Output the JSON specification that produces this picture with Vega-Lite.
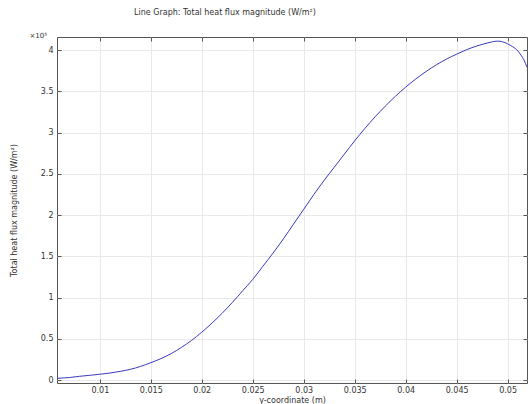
{
  "$schema": "https://vega.github.io/schema/vega-lite/v6.json",
  "autosize": "none",
  "width": 470,
  "height": 346,
  "padding": {"left": 57, "top": 37, "right": 3, "bottom": 21},
  "background": "white",
  "config": {
    "font": "DejaVu Sans",
    "view": {"stroke": "#555", "strokeWidth": 1},
    "axis": {"labelFont": "DejaVu Sans", "titleFont": "DejaVu Sans", "labelFontSize": 8, "titleFontSize": 8, "labelColor": "#333", "titleColor": "#333", "titleFontWeight": "normal", "gridColor": "#e9e9e9", "gridWidth": 1, "tickColor": "#555", "domain": false}
  },
  "title": {"text": "Line Graph: Total heat flux magnitude (W/m²)", "fontSize": 8, "font": "DejaVu Sans", "fontWeight": "normal", "color": "#333", "anchor": "middle", "dx": -67, "offset": 15},
  "data": {"values": [
    {"y": 0.0058, "q": 0.02},
    {"y": 0.007, "q": 0.03},
    {"y": 0.008, "q": 0.045},
    {"y": 0.009, "q": 0.057},
    {"y": 0.010, "q": 0.07},
    {"y": 0.011, "q": 0.085},
    {"y": 0.012, "q": 0.105},
    {"y": 0.013, "q": 0.13},
    {"y": 0.014, "q": 0.165},
    {"y": 0.015, "q": 0.21},
    {"y": 0.016, "q": 0.26},
    {"y": 0.017, "q": 0.32},
    {"y": 0.018, "q": 0.395},
    {"y": 0.019, "q": 0.48},
    {"y": 0.020, "q": 0.58},
    {"y": 0.021, "q": 0.69},
    {"y": 0.022, "q": 0.81},
    {"y": 0.023, "q": 0.94},
    {"y": 0.024, "q": 1.08},
    {"y": 0.025, "q": 1.22},
    {"y": 0.026, "q": 1.38},
    {"y": 0.027, "q": 1.54},
    {"y": 0.028, "q": 1.71},
    {"y": 0.029, "q": 1.89},
    {"y": 0.030, "q": 2.07},
    {"y": 0.031, "q": 2.25},
    {"y": 0.032, "q": 2.42},
    {"y": 0.033, "q": 2.58},
    {"y": 0.034, "q": 2.74},
    {"y": 0.035, "q": 2.9},
    {"y": 0.036, "q": 3.05},
    {"y": 0.037, "q": 3.19},
    {"y": 0.038, "q": 3.32},
    {"y": 0.039, "q": 3.44},
    {"y": 0.040, "q": 3.55},
    {"y": 0.041, "q": 3.65},
    {"y": 0.042, "q": 3.74},
    {"y": 0.043, "q": 3.82},
    {"y": 0.044, "q": 3.89},
    {"y": 0.045, "q": 3.95},
    {"y": 0.046, "q": 4.005},
    {"y": 0.047, "q": 4.05},
    {"y": 0.048, "q": 4.085},
    {"y": 0.0485, "q": 4.1},
    {"y": 0.049, "q": 4.108},
    {"y": 0.0495, "q": 4.1},
    {"y": 0.050, "q": 4.075},
    {"y": 0.0505, "q": 4.04},
    {"y": 0.051, "q": 3.99},
    {"y": 0.0513, "q": 3.94},
    {"y": 0.0516, "q": 3.88},
    {"y": 0.0519, "q": 3.79}
  ]},
  "layer": [
    {
      "mark": {"type": "line", "color": "#3a3ac0", "strokeWidth": 1, "interpolate": "monotone", "clip": true},
      "encoding": {
        "x": {"field": "y", "type": "quantitative", "scale": {"domain": [0.0058, 0.0519], "nice": false, "zero": false},
          "axis": {"title": "y-coordinate (m)", "values": [0.01, 0.015, 0.02, 0.025, 0.03, 0.035, 0.04, 0.045, 0.05], "format": ".3~f", "tickSize": -4, "labelPadding": 7, "titlePadding": 2, "grid": true}},
        "y": {"field": "q", "type": "quantitative", "scale": {"domain": [-0.036, 4.158], "nice": false, "zero": false},
          "axis": {"title": "Total heat flux magnitude (W/m²)", "values": [0, 0.5, 1, 1.5, 2, 2.5, 3, 3.5, 4], "format": "~g", "tickSize": -4, "labelPadding": 8, "titlePadding": 22, "grid": true}}
      }
    },
    {
      "mark": {"type": "line", "opacity": 0},
      "encoding": {
        "x": {"field": "y", "type": "quantitative", "axis": {"orient": "top", "title": null, "labels": false, "values": [0.01, 0.015, 0.02, 0.025, 0.03, 0.035, 0.04, 0.045, 0.05], "tickSize": -4, "grid": false}},
        "y": {"field": "q", "type": "quantitative", "axis": {"orient": "right", "title": null, "labels": false, "values": [0, 0.5, 1, 1.5, 2, 2.5, 3, 3.5, 4], "tickSize": -4, "grid": false}}
      }
    },
    {
      "data": {"values": [{"label": "×10⁵"}]},
      "mark": {"type": "text", "align": "right", "baseline": "bottom", "dx": -10, "dy": 2, "fontSize": 7, "color": "#333", "font": "DejaVu Sans"},
      "encoding": {
        "x": {"datum": 0.0058, "type": "quantitative", "axis": null},
        "y": {"datum": 4.158, "type": "quantitative", "axis": null},
        "text": {"field": "label"}
      }
    }
  ],
  "resolve": {"axis": {"x": "independent", "y": "independent"}}
}
